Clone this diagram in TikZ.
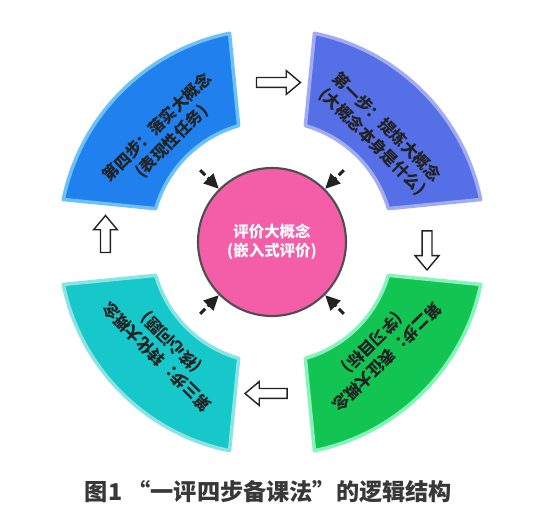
\documentclass[tikz,border=0pt]{standalone}
\usepackage{fontspec}
\setmainfont{Noto Sans CJK SC}
\usepackage{tikz}
\usetikzlibrary{arrows.meta,shapes.arrows}
\definecolor{stepblue}{HTML}{1F80EE}
\definecolor{stepblueedge}{HTML}{6CC2F6}
\definecolor{stepindigo}{HTML}{5570E6}
\definecolor{stepindigoedge}{HTML}{A3ACF2}
\definecolor{stepgreen}{HTML}{12C552}
\definecolor{stepgreenedge}{HTML}{86F2BC}
\definecolor{stepcyan}{HTML}{16C8CA}
\definecolor{stepcyanedge}{HTML}{8AE4E6}
\definecolor{evalpink}{HTML}{F45EA9}
\definecolor{inkgray}{HTML}{222222}

\begin{document}
\begin{tikzpicture}[
  ringpart/.style={line width=2pt,line join=round},
  steptext/.style={align=center,text=inkgray,font=\fontsize{9.2pt}{11.6pt}\selectfont\bfseries,inner sep=0pt},
  blockarrow/.style={single arrow,draw=inkgray,fill=white,line width=0.8pt,inner sep=0.085cm,
    single arrow head extend=0.14cm,single arrow tip angle=80,minimum height=0.88cm},
  evalarrow/.style={draw=inkgray,line width=1.8pt,dash pattern=on 0.14cm off 0.07cm on 1cm,
    -{Triangle[length=0.3cm,width=0.27cm]}}]
  \useasboundingbox (-5.44,-5.68) rectangle (5.56,4.84);
  % the four steps round the ring
  \filldraw[ringpart,fill=stepblue,draw=stepblueedge] (168.5:4.26) arc[start angle=168.5,end angle=101.5,radius=4.26] -- (106:2.42) arc[start angle=106,end angle=164,radius=2.42] -- cycle;
  \filldraw[ringpart,fill=stepindigo,draw=stepindigoedge] (78.5:4.26) arc[start angle=78.5,end angle=11.5,radius=4.26] -- (16:2.42) arc[start angle=16,end angle=74,radius=2.42] -- cycle;
  \filldraw[ringpart,fill=stepgreen,draw=stepgreenedge] (-11.5:4.26) arc[start angle=-11.5,end angle=-78.5,radius=4.26] -- (-74:2.42) arc[start angle=-74,end angle=-16,radius=2.42] -- cycle;
  \filldraw[ringpart,fill=stepcyan,draw=stepcyanedge] (-101.5:4.26) arc[start angle=-101.5,end angle=-168.5,radius=4.26] -- (-164:2.42) arc[start angle=-164,end angle=-106,radius=2.42] -- cycle;
  \node[steptext,rotate=45] (step4) at (135:3.04) {第四步：落实大概念\\(表现性任务)};
  \node[steptext,rotate=-45] (step1) at (45:3.04) {第一步：提炼大概念\\(大概念本身是什么)};
  \node[steptext,rotate=225] (step2) at (-45:3.04) {第二步：表征大概念\\(学习目标)};
  \node[steptext,rotate=135] (step3) at (-135:3.04) {第三步：转化大概念\\(核心问题)};
  % hollow arrows between the steps
  \node[blockarrow] (go41) at (0.07,3.19) {};
  \node[blockarrow,rotate=-90,minimum height=0.78cm] (go12) at (3.10,-0.11) {};
  \node[blockarrow,rotate=180,minimum height=0.84cm] (go23) at (-0.06,-3.03) {};
  \node[blockarrow,rotate=90,minimum height=0.74cm] (go34) at (-3.33,0.10) {};
  % evaluation in the middle
  \node[circle,minimum size=2.96cm,fill=evalpink,draw=inkgray!80,line width=1.2pt,align=center,
    text=white,font=\fontsize{8.8pt}{11pt}\selectfont\bfseries] (eval) at (0,0) {评价大概念\\(嵌入式评价)};
  \coordinate (in4) at (135:2.03); \coordinate (in1) at (45:2.03);
  \coordinate (in2) at (-45:2.03); \coordinate (in3) at (-135:2.03);
  \draw[evalarrow] (in4)--(eval.135); \draw[evalarrow] (in1)--(eval.45);
  \draw[evalarrow] (in2)--(eval.-45); \draw[evalarrow] (in3)--(eval.-135);
  \node[text=inkgray!90,font=\fontsize{13.2pt}{15pt}\selectfont\bfseries] (caption) at (-0.07,-5.0) {图1\ “一评四步备课法”的逻辑结构};
\end{tikzpicture}
\end{document}
